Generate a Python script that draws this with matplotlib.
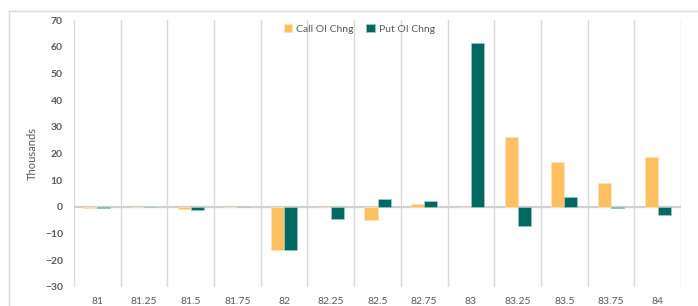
import numpy as np
import matplotlib
matplotlib.use('Agg')
import matplotlib.pyplot as plt
from matplotlib.ticker import MultipleLocator

plt.rcParams['font.family'] = ['Lato', 'DejaVu Sans']

strikes = ['81', '81.25', '81.5', '81.75', '82', '82.25', '82.5', '82.75',
           '83', '83.25', '83.5', '83.75', '84']
call_chng = [-0.5, 0, -0.8, 0, -16.0, -0.2, -5.0, 1.2, 0, 26.0, 16.7, 9.0, 18.6]
put_chng = [-0.5, 0, -1.2, 0, -16.3, -4.5, 3.0, 2.3, 61.3, -7.2, 3.8, -0.5, -3.2]

call_col = '#FFC061'
put_col = '#006862'
txt_col = '#595959'

fig = plt.figure(figsize=(6.98, 3.06), dpi=100)
# outer chart border (right/bottom cut off in the reference)
fig.add_artist(plt.Line2D([9/698, 9/698], [0, 1-11/306], transform=fig.transFigure,
                          color='#D9D9D9', lw=1))
fig.add_artist(plt.Line2D([9/698, 1], [1-11/306, 1-11/306], transform=fig.transFigure,
                          color='#D9D9D9', lw=1))

ax = fig.add_axes([74/698, 1-287/306, (681-74)/698, (287-20)/306])
x = np.arange(len(strikes))
w = 0.28
ax.bar(x - w/2, call_chng, w, color=call_col, edgecolor='#FFE3B8', lw=0.5,
       label='Call OI Chng', zorder=3)
ax.bar(x + w/2, put_chng, w, color=put_col, edgecolor='#9FC9C6', lw=0.5,
       label='Put OI Chng', zorder=3)

ax.set_xlim(-0.5, len(strikes) - 0.5)
ax.set_ylim(-30, 70)
ax.yaxis.set_major_locator(MultipleLocator(10))
ax.set_xticks(x)
ax.set_xticklabels(strikes)
for b in np.arange(-0.5, len(strikes), 1):
    ax.axvline(b, color='#D9D9D9', lw=1, zorder=1)
ax.axhline(0, color='#D0D0D0', lw=1.6, zorder=2)

for s in ax.spines.values():
    s.set_visible(False)
ax.tick_params(axis='both', length=0, labelsize=7.5, colors=txt_col)
ax.tick_params(axis='x', pad=7)
ax.tick_params(axis='y', pad=8)
for t in ax.get_yticklabels():
    t.set_fontweight('bold')
ax.set_ylabel('Thousands', fontsize=8, color=txt_col, labelpad=5)

ax.legend(loc='upper center', bbox_to_anchor=(0.47, 1.02), ncol=2, frameon=False,
          fontsize=7.5, handlelength=0.8, handleheight=0.8, columnspacing=1.2,
          handletextpad=0.4, labelcolor=txt_col)

fig.savefig('out.png', dpi=100)
